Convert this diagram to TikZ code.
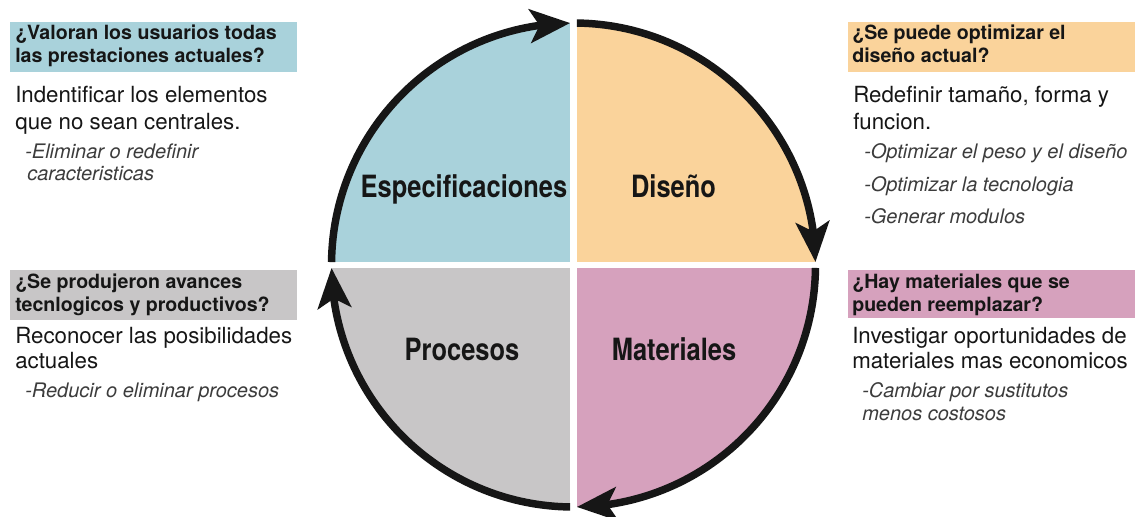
\documentclass[tikz,border=0pt]{standalone}
\usepackage{fontspec}
\setmainfont{TeX Gyre Heros}
\newfontfamily\labelfont[FakeStretch=0.83]{TeX Gyre Heros}
\usetikzlibrary{arrows.meta,bending}
\definecolor{qblue}{RGB}{169,210,219}
\definecolor{qorange}{RGB}{250,211,155}
\definecolor{qgray}{RGB}{200,198,199}
\definecolor{qpink}{RGB}{214,161,189}
\definecolor{ink}{RGB}{22,22,22}
\definecolor{noteink}{RGB}{60,60,60}
\begin{document}
\begin{tikzpicture}[x=0.75pt,y=0.75pt,
  hdr/.style={anchor=base west, inner sep=0pt, font=\bfseries\fontsize{14.7}{17}\selectfont, text=ink},
  body/.style={anchor=base west, inner sep=0pt, font=\fontsize{16.7}{20}\selectfont, text=ink},
  note/.style={anchor=base west, inner sep=0pt, font=\itshape\fontsize{15}{18}\selectfont, text=noteink},
  quad/.style={anchor=base, inner sep=0pt, font=\labelfont\bfseries\fontsize{23}{26}\selectfont, text=ink},
  ring/.style={line width=5.6pt, draw=ink, -{Stealth[length=30pt,width=25pt,inset=7pt]}}
]
\useasboundingbox (0,0) rectangle (1138,-517);
\fill[white] (0,0) rectangle (1138,-517);
\coordinate (C) at (573.5,-265);
% quadrants
\fill[qblue]   (C) -- ++(180:181.5pt) arc[start angle=180,end angle=90,radius=181.5pt] -- cycle;
\fill[qorange] (C) -- ++(90:181.5pt) arc[start angle=90,end angle=0,radius=181.5pt] -- cycle;
\fill[qpink]   (C) -- ++(0:181.5pt) arc[start angle=0,end angle=-90,radius=181.5pt] -- cycle;
\fill[qgray]   (C) -- ++(-90:181.5pt) arc[start angle=-90,end angle=-180,radius=181.5pt] -- cycle;
% gaps
\fill[white] (570,-15) rectangle (577,-515);
\fill[white] (322,-262) rectangle (825,-268);
% ring arcs with arrows
\draw[ring] ([shift={(179.3:181.5pt)}]C) arc[start angle=179.3,end angle=90.8,radius=181.5pt];
\draw[ring] ([shift={(89.2:181.5pt)}]C) arc[start angle=89.2,end angle=0.7,radius=181.5pt];
\draw[ring] ([shift={(-0.7:181.5pt)}]C) arc[start angle=-0.7,end angle=-89.2,radius=181.5pt];
\draw[ring] ([shift={(-90.8:181.5pt)}]C) arc[start angle=-90.8,end angle=-179.3,radius=181.5pt];
% quadrant labels
\node[quad] (espec) at (464,-197) {Especificaciones};
\node[quad] (dis) at (673.5,-197) {Diseño};
\node[quad] (proc) at (462,-360) {Procesos};
\node[quad] (mat) at (674,-360) {Materiales};
% header boxes
\fill[qblue]   (10,-22) rectangle (297,-72);
\fill[qorange] (848,-22) rectangle (1135,-72);
\fill[qgray]   (10,-270) rectangle (297,-320);
\fill[qpink]   (848,-270) rectangle (1135,-318);
% top left
\node[hdr] (tl1) at (15,-40) {¿Valoran los usuarios todas};
\node[hdr] (tl2) at (15,-63) {las prestaciones actuales?};
\node[body] (tl3) at (15,-103) {Indentificar los elementos};
\node[body] (tl4) at (15,-129) {que no sean centrales.};
\node[note] (tl5) at (25,-158) {-Eliminar o redefinir};
\node[note] (tl6) at (27,-180) {caracteristicas};
% top right
\node[hdr] (tr1) at (852,-40) {¿Se puede optimizar el};
\node[hdr] (tr2) at (852,-63) {diseño actual?};
\node[body] (tr3) at (853,-103) {Redefinir tamaño, forma y};
\node[body] (tr4) at (853,-129) {funcion.};
\node[note] (tr5) at (864,-158) {-Optimizar el peso y el diseño};
\node[note] (tr6) at (864,-191) {-Optimizar la tecnologia};
\node[note] (tr7) at (864,-223) {-Generar modulos};
% bottom left
\node[hdr] (bl1) at (15,-288) {¿Se produjeron avances};
\node[hdr] (bl2) at (15,-311) {tecnlogicos y productivos?};
\node[body] (bl3) at (15,-343) {Reconocer las posibilidades};
\node[body] (bl4) at (15,-368) {actuales};
\node[note] (bl5) at (25,-397) {-Reducir o eliminar procesos};
% bottom right
\node[hdr] (br1) at (852,-288) {¿Hay materiales que se};
\node[hdr] (br2) at (852,-311) {pueden reemplazar?};
\node[body] (br3) at (852,-343) {Investigar oportunidades de};
\node[body] (br4) at (852,-368) {materiales mas economicos};
\node[note] (br5) at (862,-397) {-Cambiar por sustitutos};
\node[note] (br6) at (862,-420) {menos costosos};
\end{tikzpicture}
\end{document}
